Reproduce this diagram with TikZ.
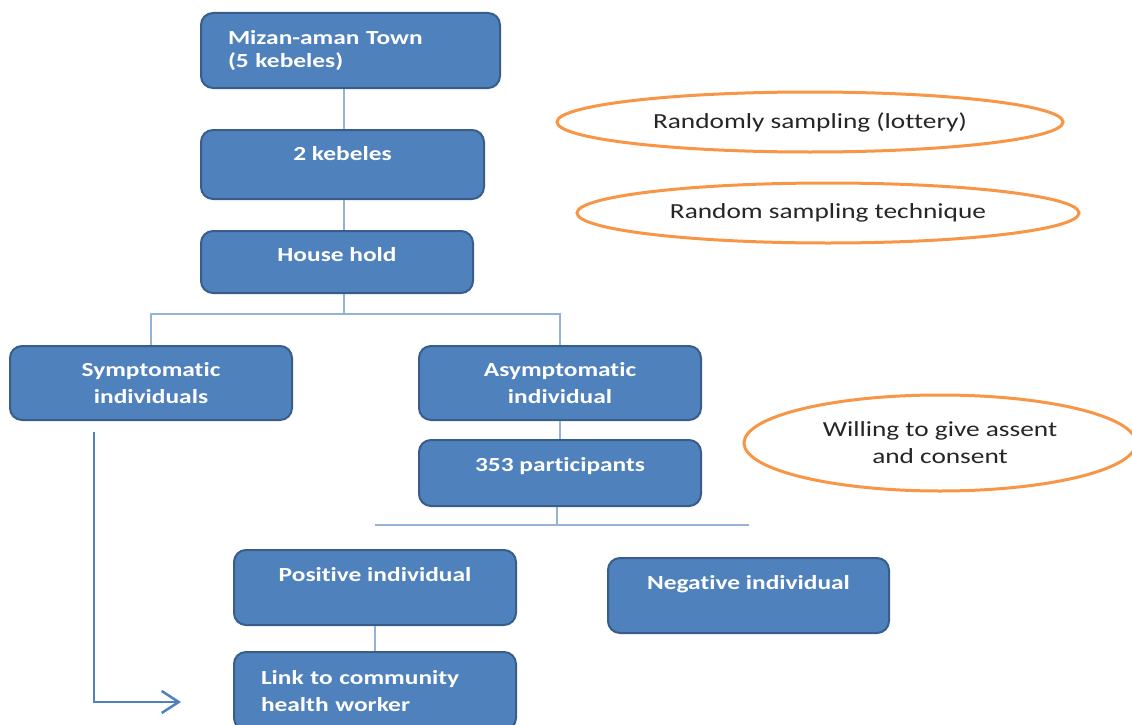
\documentclass[tikz,border=0pt]{standalone}
\usepackage{fontspec}
\setmainfont{Carlito}[FakeStretch=1.27, Ligatures={NoCommon,NoRare}]
\usetikzlibrary{arrows.meta}
\usetikzlibrary{shapes.geometric,positioning}
\definecolor{boxfill}{HTML}{4F81BD}
\definecolor{boxline}{HTML}{385D8A}
\definecolor{tieline}{HTML}{95B3D7}
\definecolor{ovalline}{HTML}{F79646}
\tikzset{
	box/.style={draw=boxline, fill=boxfill, line width=2pt, rounded corners=12pt,
		text=white, font=\fontsize{20}{26.5}\selectfont\bfseries, align=center, inner sep=0pt},
	oneline/.style={text height=14pt, text depth=#1},
	oval/.style={ellipse, draw=ovalline, line width=3pt, fill=white, inner sep=0pt,
		text=black!85, font=\fontsize{21.5}{27}\selectfont, align=center},
	tie/.style={draw=tieline, line width=1.5pt},
	pointer/.style={draw=boxfill, line width=2.5pt, -{Straight Barb[length=17pt,width=22pt,line width=2.5pt]}}
}

\begin{document}
\begin{tikzpicture}[x=1pt,y=-1pt]
	\useasboundingbox (0,0) rectangle (1132,725);
	\clip (0,0) rectangle (1132,725);
	% boxes
	\node[box, minimum width=299, minimum height=75, text width=245, align=left,
		font=\fontsize{20}{23}\selectfont\bfseries] (town) at (350.5,50.5)
		{Mizan-aman Town\\(5 kebeles)};
	\node[box, minimum width=283, minimum height=69, oneline=23pt] (keb) at (342.5,164.5) {2 kebeles};
	\node[box, minimum width=272, minimum height=62, oneline=16pt] (hh) at (337,262) {House hold};
	\node[box, minimum width=282, minimum height=74] (sym) at (151,383) {Symptomatic\\individuals};
	\node[box, minimum width=282, minimum height=74] (asym) at (560,383) {Asymptomatic\\individual};
	\node[box, minimum width=282, minimum height=66, oneline=18pt] (part) at (560,473) {353 participants};
	\node[box, minimum width=282, minimum height=75, oneline=27pt] (pos) at (375,587.5) {Positive individual};
	\node[box, minimum width=281, minimum height=75, oneline=27pt] (neg) at (748.5,595.5) {Negative individual};
	\node[box, minimum width=282, minimum height=78, text width=228, align=left] (link) at (375,691)
		{Link to community\\health worker};
	% ovals
	\node[oval, minimum width=506, minimum height=60] (lottery) at (810,122) {Randomly sampling (lottery)};
	\node[oval, minimum width=502, minimum height=60] (technique) at (828,213) {Random sampling technique};
	\node[oval, minimum width=392, minimum height=96] (assent) at (940,443) {Willing to give assent\\and consent};
	% connectors
	\coordinate (split) at (344,314);
	\coordinate (split2) at (557,525);
	\coordinate (symout) at (94,432);
	\coordinate (linkin) at (181,702);
	\draw[tie] (town.south -| split) -- (keb.north -| split);
	\draw[tie] (keb.south -| split) -- (hh.north -| split);
	\draw[tie] (hh.south -| split) -- (split);
	\draw[tie] (sym.north) |- (split) -| (asym.north);
	\draw[tie] (asym.south) -- (part.north);
	\draw[tie] (part.south -| split2) -- (split2);
	\draw[tie] (pos.north |- split2) -- (neg.north |- split2);
	\draw[tie] (pos.south) -- (link.north);
	\draw[pointer] (symout) |- (linkin);
\end{tikzpicture}
\end{document}
